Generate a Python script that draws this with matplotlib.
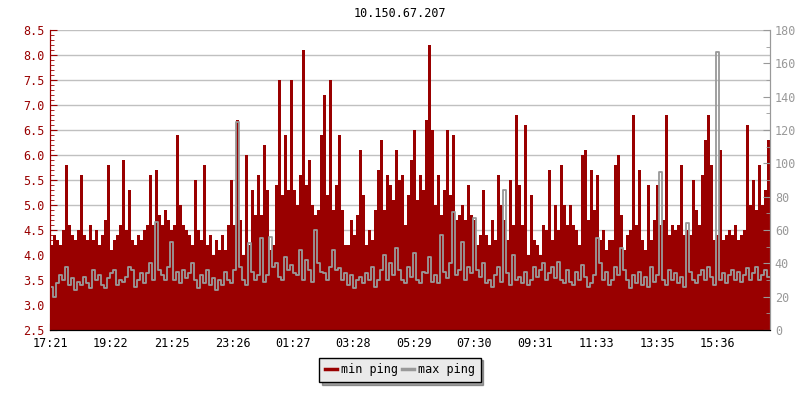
import numpy as np
import matplotlib
matplotlib.use("Agg")
import matplotlib.pyplot as plt
from matplotlib.ticker import MultipleLocator, FormatStrFormatter
from matplotlib.lines import Line2D

# host and time labels
title = "10.150.67.207"
tick_labels = ["17:21", "19:22", "21:25", "23:26", "01:27", "03:28",
               "05:29", "07:30", "09:31", "11:33", "13:35", "15:36"]

# min ping (left axis), one value per 6 minutes, 24 hours
min_ping = [
    # 17:21 - 22:09
    4.2, 4.4, 4.3, 4.2, 4.5, 5.8, 4.6, 4.4, 4.3, 4.5, 5.6, 4.4, 4.3, 4.6, 4.3, 4.5,
    4.2, 4.4, 4.7, 5.8, 4.1, 4.3, 4.4, 4.6, 5.9, 4.5, 5.3, 4.3, 4.2, 4.4, 4.3, 4.5,
    4.6, 5.6, 4.6, 5.7, 4.8, 4.6, 4.9, 4.7, 4.5, 4.6, 6.4, 5.0, 4.6, 4.5, 4.4, 4.2,
    # 22:09 - 02:57
    5.5, 4.5, 4.3, 5.8, 4.2, 4.4, 4.0, 4.3, 4.1, 4.4, 4.1, 4.6, 5.5, 4.6, 6.7, 4.7,
    4.0, 6.0, 4.2, 5.3, 4.8, 5.6, 4.8, 6.2, 5.3, 4.1, 4.2, 5.4, 7.5, 5.2, 6.4, 5.3,
    7.5, 5.3, 5.0, 5.6, 8.1, 5.4, 5.9, 5.0, 4.8, 4.9, 6.4, 7.2, 5.2, 7.5, 4.9, 5.4,
    # 02:57 - 07:45
    6.4, 4.9, 4.2, 4.2, 4.7, 4.4, 4.8, 6.1, 5.2, 4.2, 4.5, 4.3, 4.9, 5.7, 6.3, 4.9,
    5.6, 5.4, 5.1, 6.1, 5.5, 5.6, 4.6, 5.2, 5.9, 6.5, 5.1, 5.6, 5.3, 6.7, 8.2, 6.5,
    5.0, 5.6, 4.8, 5.3, 6.5, 5.2, 6.4, 4.7, 4.8, 5.0, 4.7, 5.4, 4.8, 4.7, 4.2, 4.4,
    # 07:45 - 12:33
    5.3, 4.4, 4.2, 4.7, 4.3, 5.6, 5.0, 4.7, 4.3, 5.5, 4.6, 6.8, 5.4, 4.6, 6.6, 4.0,
    5.2, 4.3, 4.2, 4.0, 4.6, 4.5, 5.7, 4.3, 5.0, 4.5, 5.8, 5.0, 4.6, 5.0, 4.6, 4.5,
    4.2, 6.0, 6.1, 4.7, 5.7, 4.9, 5.6, 4.3, 4.5, 4.1, 4.3, 4.3, 5.8, 6.0, 4.8, 4.1,
    # 12:33 - 17:21
    4.4, 4.5, 6.8, 4.6, 5.7, 4.3, 4.1, 5.4, 4.3, 4.7, 5.4, 4.6, 4.7, 6.8, 4.4, 4.6,
    4.5, 4.6, 5.8, 4.4, 4.5, 4.4, 5.5, 4.9, 4.6, 5.6, 6.3, 6.8, 5.8, 4.3, 4.4, 6.1,
    4.3, 4.4, 4.5, 4.4, 4.6, 4.3, 4.4, 4.5, 6.6, 5.0, 5.5, 4.9, 5.8, 5.0, 5.3, 6.3,
]

# max ping (right axis), same sampling
max_ping = [
    26, 20, 28, 33, 30, 38, 27, 31, 24, 29, 27, 32, 28, 25, 36, 30,
    33, 27, 25, 31, 34, 36, 27, 30, 29, 32, 38, 36, 26, 30, 34, 28,
    34, 40, 30, 65, 36, 33, 30, 38, 53, 30, 35, 28, 36, 31, 34, 40,
    30, 25, 33, 28, 36, 27, 31, 24, 30, 27, 35, 30, 28, 36, 125, 38,
    30, 27, 52, 35, 30, 33, 55, 29, 33, 56, 38, 40, 32, 30, 44, 36,
    39, 34, 33, 48, 30, 42, 36, 29, 60, 40, 35, 34, 30, 38, 48, 36,
    37, 30, 34, 27, 33, 25, 30, 32, 28, 34, 30, 38, 26, 30, 36, 45,
    30, 40, 33, 49, 36, 30, 28, 38, 32, 46, 30, 28, 35, 34, 44, 29,
    33, 28, 57, 35, 31, 40, 71, 33, 36, 53, 30, 38, 34, 67, 36, 32,
    40, 28, 30, 26, 33, 38, 29, 84, 34, 27, 45, 30, 32, 28, 35, 27,
    30, 38, 32, 36, 40, 30, 34, 38, 31, 41, 30, 28, 36, 29, 27, 35,
    30, 39, 32, 26, 28, 33, 55, 40, 30, 35, 27, 30, 38, 33, 49, 36,
    30, 25, 33, 28, 35, 27, 32, 26, 38, 29, 33, 95, 30, 27, 36, 30,
    34, 28, 32, 26, 64, 35, 30, 28, 33, 36, 30, 38, 32, 27, 167, 30,
    34, 28, 33, 36, 30, 35, 29, 33, 37, 30, 34, 38, 30, 33, 36, 32,
]

red = "#990000"
grey = "#999999"
plt.rcParams["font.family"] = ["DejaVu Sans Mono"]
plt.rcParams["font.size"] = 8.5

step = 6  # minutes per sample
x = np.arange(len(min_ping) + 1) * step
mins = np.append(min_ping, min_ping[-1])
maxs = np.append(max_ping, max_ping[-1])

# minutes after start for each tick label
h0, m0 = map(int, tick_labels[0].split(":"))
tick_pos = []
for t in tick_labels:
    h, m = map(int, t.split(":"))
    tick_pos.append(((h * 60 + m) - (h0 * 60 + m0)) % 1440)

fig = plt.figure(figsize=(8, 4), dpi=100)
ax = fig.add_axes([0.0625, 0.175, 0.9, 0.75])
ax2 = ax.twinx()

ax.fill_between(x, 2.5, mins, step="post", color=red, linewidth=0)
ax2.step(x, maxs, where="post", color=grey, linewidth=1.3)

ax.set_xlim(0, len(min_ping) * step)
ax.set_ylim(2.5, 8.5)
ax2.set_ylim(0, 180)

ax.set_axisbelow(True)
ax.yaxis.grid(True, color="#c0c0c0", linewidth=1)
ax.yaxis.set_major_locator(MultipleLocator(0.5))
ax.yaxis.set_minor_locator(MultipleLocator(0.1))
ax.yaxis.set_major_formatter(FormatStrFormatter("%.1f"))
ax2.yaxis.set_major_locator(MultipleLocator(20))
ax2.yaxis.set_minor_locator(MultipleLocator(10))

ax.set_xticks(tick_pos)
ax.set_xticklabels(tick_labels)

ax.tick_params(axis="y", which="major", direction="in", length=5, color=red, labelcolor=red, pad=4)
ax.tick_params(axis="y", which="minor", direction="in", length=3, color=red)
ax.tick_params(axis="x", direction="in", length=5, color="black", labelcolor="black", pad=5)
ax2.tick_params(axis="y", which="major", direction="in", length=5, color=grey, labelcolor=grey)
ax2.tick_params(axis="y", which="minor", direction="in", length=3, color=grey)

for a in (ax, ax2):
    a.spines["top"].set_visible(False)
    a.spines["left"].set_color(red)
    a.spines["right"].set_color(grey)
    a.spines["bottom"].set_color("black")

fig.text(0.5, 0.967, title, ha="center", va="center", fontsize=8.5)

handles = [Line2D([], [], color=red, linewidth=2.5),
           Line2D([], [], color=grey, linewidth=2.5)]
leg = fig.legend(handles, ["min ping", "max ping"], loc="center",
                 bbox_to_anchor=(0.5, 0.075), ncol=2, frameon=True,
                 fancybox=False, shadow=True, edgecolor="black",
                 facecolor="#eaeaea", framealpha=1, handlelength=1,
                 handletextpad=0.3, columnspacing=0.4, borderpad=0.5)
leg.get_frame().set_linewidth(1)

fig.savefig("out.png", dpi=100)
